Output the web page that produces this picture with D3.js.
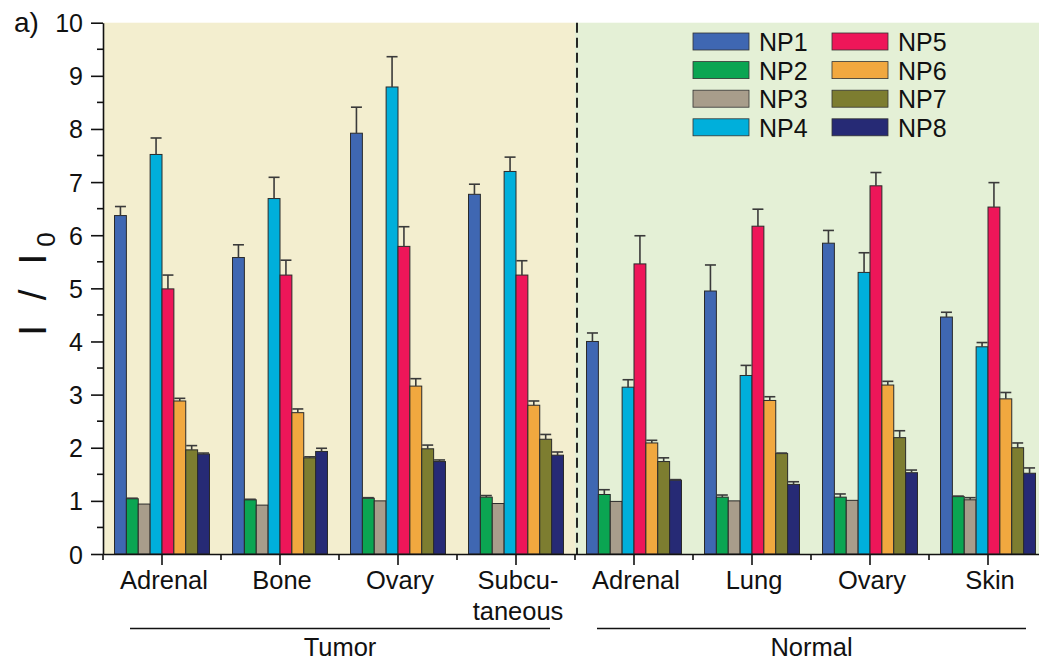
<!DOCTYPE html>
<meta charset="utf-8">
<title>I / I0 bars</title>
<style>
body { margin: 0; background: #fff; }
svg { display: block; font-family: "Liberation Sans", Arial, sans-serif; }
.axis path, .axis line { stroke: #111; stroke-width: 1.6; }
.axis text { font-size: 25px; fill: #111; font-family: "Liberation Sans", Arial, sans-serif; }
.bar { stroke: #2a2a2a; stroke-width: 1; }
.err { stroke: #3a3a3a; stroke-width: 1.6; fill: none; }
</style>
<svg width="1039" height="662"></svg>
<script src="https://cdn.jsdelivr.net/npm/d3@7"></script>
<script>

// categories along the x axis (multi-line labels)
var categories = [["Adrenal"], ["Bone"], ["Ovary"], ["Subcu-", "taneous"],
                  ["Adrenal"], ["Lung"], ["Ovary"], ["Skin"]];
var tissueGroups = ["Tumor", "Normal"];
var groupFirst = [0, 4];
var groupLast = [3, 7];

var seriesNames = ["NP1", "NP2", "NP3", "NP4", "NP5", "NP6", "NP7", "NP8"];
var seriesColors = ["#3f67b2", "#0ba552", "#a89d8b", "#00afdb", "#ee1659", "#f1a83f", "#7d7d30", "#262a75"];

var np1 = [6.37, 5.58, 7.92, 6.77, 4.00, 4.95, 5.85, 4.46];
var np2 = [1.04, 1.02, 1.05, 1.07, 1.12, 1.07, 1.07, 1.08];
var np3 = [0.94, 0.92, 1.00, 0.95, 0.99, 1.00, 1.01, 1.02];
var np4 = [7.52, 6.69, 8.79, 7.20, 3.14, 3.36, 5.30, 3.90];
var np5 = [4.99, 5.25, 5.79, 5.25, 5.46, 6.17, 6.93, 6.53];
var np6 = [2.88, 2.66, 3.16, 2.80, 2.09, 2.89, 3.18, 2.92];
var np7 = [1.96, 1.81, 1.98, 2.16, 1.74, 1.89, 2.19, 2.00];
var np8 = [1.88, 1.93, 1.74, 1.86, 1.39, 1.31, 1.53, 1.52];

var np1Err = [0.17, 0.24, 0.49, 0.19, 0.16, 0.49, 0.24, 0.09];
var np2Err = [0.01, 0.01, 0.01, 0.03, 0.09, 0.04, 0.06, 0.01];
var np3Err = [0.00, 0.00, 0.00, 0.00, 0.00, 0.00, 0.00, 0.04];
var np4Err = [0.31, 0.40, 0.57, 0.27, 0.14, 0.19, 0.37, 0.08];
var np5Err = [0.26, 0.28, 0.37, 0.27, 0.53, 0.32, 0.25, 0.46];
var np6Err = [0.05, 0.07, 0.14, 0.08, 0.05, 0.07, 0.07, 0.12];
var np7Err = [0.08, 0.02, 0.07, 0.09, 0.07, 0.01, 0.13, 0.09];
var np8Err = [0.02, 0.06, 0.03, 0.06, 0.01, 0.05, 0.05, 0.10];

var yTicks = [0, 1, 2, 3, 4, 5, 6, 7, 8, 9, 10];

var values = [np1, np2, np3, np4, np5, np6, np7, np8];
var errors = [np1Err, np2Err, np3Err, np4Err, np5Err, np6Err, np7Err, np8Err];

var svg = d3.select("svg");
var plotLeft = 103, plotRight = 1047, plotTop = 22.7, plotBottom = 554;

var x = d3.scaleBand()
    .domain(d3.range(categories.length))
    .range([plotLeft, plotRight])
    .paddingInner(0.195)
    .paddingOuter(0.0975);

var xs = d3.scaleBand()
    .domain(seriesNames)
    .range([0, x.bandwidth()]);

var y = d3.scaleLinear()
    .domain([0, 10])
    .range([plotBottom, plotTop]);

var color = d3.scaleOrdinal().domain(seriesNames).range(seriesColors);

var gap = x.step() * x.paddingInner();
var divider = x(groupFirst[1]) - gap / 2;

// backgrounds
svg.append("rect")
    .attr("x", plotLeft).attr("y", plotTop)
    .attr("width", divider - plotLeft).attr("height", plotBottom - plotTop)
    .attr("fill", "#f3eecf");
svg.append("rect")
    .attr("x", divider).attr("y", plotTop)
    .attr("width", plotRight - divider).attr("height", plotBottom - plotTop)
    .attr("fill", "#e4f0d6");

svg.append("line")
    .attr("x1", divider + 2).attr("x2", divider + 2)
    .attr("y1", plotTop).attr("y2", plotBottom)
    .attr("stroke", "#111")
    .attr("stroke-width", 1.8)
    .attr("stroke-dasharray", "10,5");

// bars
var cells = [];
values.forEach(function (vals, s) {
  vals.forEach(function (v, c) {
    cells.push({s: seriesNames[s], c: c, v: v, e: errors[s][c]});
  });
});

svg.append("g")
  .selectAll("rect")
  .data(cells)
  .enter().append("rect")
    .attr("class", "bar")
    .attr("x", function (d) { return x(d.c) + xs(d.s); })
    .attr("y", function (d) { return y(d.v); })
    .attr("width", xs.bandwidth())
    .attr("height", function (d) { return y(0) - y(d.v); })
    .attr("fill", function (d) { return color(d.s); });

// error bars (upper only)
var err = svg.append("g")
  .selectAll("g")
  .data(cells.filter(function (d) { return d.e > 0; }))
  .enter().append("g")
    .attr("class", "err")
    .attr("transform", function (d) { return "translate(" + (x(d.c) + xs(d.s) + xs.bandwidth() / 2) + ",0)"; });

err.append("line")
    .attr("y1", function (d) { return y(d.v); })
    .attr("y2", function (d) { return y(d.v + d.e); });
err.append("line")
    .attr("x1", -5.5).attr("x2", 5.5)
    .attr("y1", function (d) { return y(d.v + d.e); })
    .attr("y2", function (d) { return y(d.v + d.e); });

// y axis
var yAxis = svg.append("g")
    .attr("class", "axis")
    .attr("transform", "translate(" + plotLeft + ",0)")
    .call(d3.axisLeft(y).tickValues(yTicks).tickSize(12).tickSizeOuter(0).tickPadding(8));

yAxis.selectAll(".tick text").attr("dy", "0.36em");

yAxis.selectAll(".minor")
    .data(yTicks.slice(0, -1))
  .enter().append("line")
    .attr("class", "minor")
    .attr("x1", -6).attr("x2", 0)
    .attr("y1", function (d) { return y(d + 0.5); })
    .attr("y2", function (d) { return y(d + 0.5); });

// x axis
var xAxis = svg.append("g")
    .attr("class", "axis")
    .attr("transform", "translate(0," + plotBottom + ")")
    .call(d3.axisBottom(x).tickSize(11).tickSizeOuter(0).tickFormat(""));

xAxis.selectAll(".minor")
    .data(d3.range(categories.length))
  .enter().append("line")
    .attr("class", "minor")
    .attr("x1", function (d) { return x(d) - gap / 2; })
    .attr("x2", function (d) { return x(d) - gap / 2; })
    .attr("y1", 0).attr("y2", 6);

var xLabel = svg.append("g")
    .selectAll("text")
    .data(categories)
  .enter().append("text")
    .attr("x", function (d, i) { return x(i) + x.bandwidth() / 2 + 2; })
    .attr("y", plotBottom + 35)
    .attr("text-anchor", "middle")
    .style("font-size", "25.5px")
    .style("fill", "#111");

xLabel.selectAll("tspan")
    .data(function (d) { return d; })
  .enter().append("tspan")
    .attr("x", function () { return d3.select(this.parentNode).attr("x"); })
    .attr("dy", function (d, i) { return i ? 31 : 0; })
    .text(function (d) { return d; });

// tissue group brackets
var bracketLeft = [-32, -37];
var bracketRight = [34, 38];
tissueGroups.forEach(function (name, i) {
  var x1 = x(groupFirst[i]) + x.bandwidth() / 2 + bracketLeft[i];
  var x2 = x(groupLast[i]) + x.bandwidth() / 2 + bracketRight[i];
  svg.append("line")
      .attr("x1", x1).attr("x2", x2)
      .attr("y1", 628.5).attr("y2", 628.5)
      .attr("stroke", "#111")
      .attr("stroke-width", 1.6);
  svg.append("text")
      .attr("x", (x1 + x2) / 2)
      .attr("y", 656)
      .attr("text-anchor", "middle")
      .style("font-size", "25.5px")
      .style("fill", "#111")
      .text(name);
});

// y title
var yTitle = svg.append("text")
    .attr("transform", "translate(46,284) rotate(-90)")
    .attr("text-anchor", "middle")
    .style("font-size", "39px")
    .style("letter-spacing", "7px")
    .style("fill", "#111");
yTitle.append("tspan").text("I / I");
yTitle.append("tspan").attr("dy", 9).style("font-size", "26px").style("letter-spacing", "0px").text("0");

svg.append("text")
    .attr("x", 14).attr("y", 32)
    .style("font-size", "28px")
    .style("fill", "#111")
    .text("a)");

// legend
var legend = svg.append("g")
  .selectAll("g")
    .data(seriesNames)
  .enter().append("g")
    .attr("transform", function (d, i) {
      return "translate(" + (693 + Math.floor(i / 4) * 139) + "," + (33 + (i % 4) * 28.6) + ")";
    });

legend.append("rect")
    .attr("width", 56).attr("height", 17)
    .attr("fill", color)
    .attr("stroke", "#333")
    .attr("stroke-width", 0.8);

legend.append("text")
    .attr("x", 66).attr("y", 18)
    .style("font-size", "25px")
    .style("fill", "#111")
    .text(function (d) { return d; });

</script>
